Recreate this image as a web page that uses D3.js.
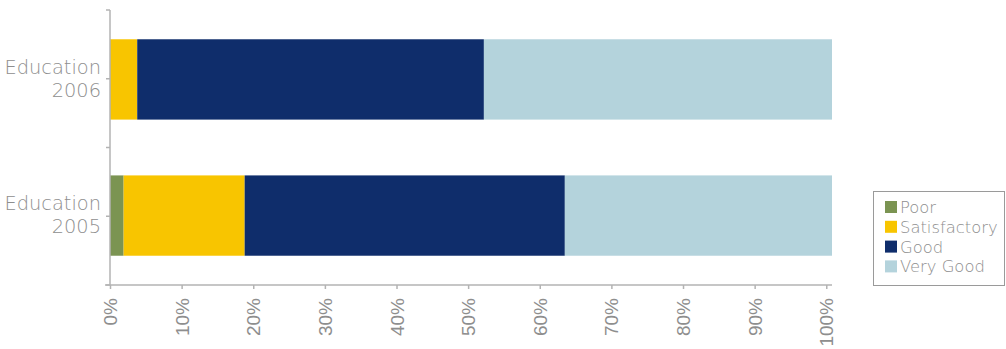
<!DOCTYPE html>
<html>
<head>
<meta charset="utf-8">
<script src="https://cdn.jsdelivr.net/npm/d3@7"></script>
<style>
  html, body { margin: 0; padding: 0; background: #fff; }
  svg { display: block; font-family: "DejaVu Sans", sans-serif; font-weight: 200; }
</style>
</head>
<body>
<svg id="chart" width="1006" height="349"></svg>
<script>
// Rating shares (%) per assessment year
const categories = ["Education 2006", "Education 2005"];
const seriesNames = ["Poor", "Satisfactory", "Good", "Very Good"];
const poor         = [0.0, 1.9];
const satisfactory = [3.8, 16.9];
const good         = [48.4, 44.7];
const veryGood     = [48.6, 37.3];
const tickValues = [0, 10, 20, 30, 40, 50, 60, 70, 80, 90, 100];
const colors = ["#7b9452", "#f8c500", "#0f2d6b", "#b4d3dc"];

const rows = categories.map((c, i) => ({
  category: c,
  "Poor": poor[i],
  "Satisfactory": satisfactory[i],
  "Good": good[i],
  "Very Good": veryGood[i]
}));
const stacked = d3.stack().keys(seriesNames)(rows);
const maxTotal = d3.max(rows, r => seriesNames.reduce((s, k) => s + r[k], 0));

const svg = d3.select("#chart");
const margin = { left: 110, top: 10, bottom: 64 };
const plotRight = 832;
const plotBottom = 349 - margin.bottom; // 285

const x = d3.scaleLinear().domain([0, maxTotal]).range([margin.left, plotRight]);
const y = d3.scaleBand().domain(categories).range([margin.top, plotBottom])
  .paddingInner(0.41).paddingOuter(0.215);
const color = d3.scaleOrdinal().domain(seriesNames).range(colors);

const axisColor = "#b3b3b3";
const textColor = "#8e8e8e";

// Stacked bars
svg.append("g").selectAll("g")
  .data(stacked)
  .join("g")
  .attr("fill", d => color(d.key))
  .selectAll("rect")
  .data(d => d)
  .join("rect")
  .attr("x", d => x(d[0]))
  .attr("width", d => x(d[1]) - x(d[0]))
  .attr("y", d => y(d.data.category))
  .attr("height", y.bandwidth());

// Y axis: line with ticks at band edges and band centres
const yAxis = svg.append("g");
yAxis.append("line")
  .attr("x1", margin.left).attr("x2", margin.left)
  .attr("y1", margin.top).attr("y2", plotBottom)
  .attr("stroke", axisColor).attr("stroke-width", 1.5);
const step = (plotBottom - margin.top) / categories.length;
const yTicks = d3.range(categories.length * 2 + 1).map(k => margin.top + k * step / 2);
yAxis.selectAll("line.tick")
  .data(yTicks)
  .join("line")
  .attr("class", "tick")
  .attr("x1", margin.left - 4).attr("x2", margin.left)
  .attr("y1", d => d).attr("y2", d => d)
  .attr("stroke", axisColor).attr("stroke-width", 1.5);

// Category labels on two lines
const catLabels = yAxis.selectAll("text")
  .data(categories)
  .join("text")
  .attr("text-anchor", "end")
  .attr("fill", textColor)
  .attr("font-size", 19.4)
  .attr("transform", d => `translate(101, ${y(d) + y.bandwidth() / 2})`);
catLabels.append("tspan").attr("x", 0).attr("y", -5.5).text(d => d.split(" ")[0]);
catLabels.append("tspan").attr("x", 0).attr("y", 17.5).text(d => d.split(" ")[1]);

// X axis
const xAxis = d3.axisBottom(x)
  .tickValues(tickValues)
  .tickFormat(d => d + "%")
  .tickSize(4)
  .tickSizeOuter(0);
const gx = svg.append("g")
  .attr("transform", `translate(0, ${plotBottom})`)
  .call(xAxis);
gx.select(".domain").remove();
gx.insert("line", ":first-child")
  .attr("x1", margin.left - 5).attr("x2", plotRight)
  .attr("y1", 0).attr("y2", 0)
  .attr("stroke", axisColor).attr("stroke-width", 1.5);
gx.selectAll(".tick line").attr("stroke", axisColor).attr("stroke-width", 1.5);
gx.selectAll(".tick text")
  .attr("fill", textColor)
  .attr("font-size", 19)
  .attr("font-family", null)
  .attr("text-anchor", "end")
  .attr("dy", null)
  .attr("y", 0)
  .attr("x", 0)
  .attr("dominant-baseline", "central")
  .attr("transform", "translate(0, 13) rotate(-90)");

// Legend
const legend = svg.append("g").attr("transform", "translate(873.5, 191.5)");
legend.append("rect")
  .attr("width", 131).attr("height", 94)
  .attr("fill", "#fff").attr("stroke", "#9a9a9a").attr("stroke-width", 1);
const items = legend.selectAll("g.item")
  .data(seriesNames)
  .join("g")
  .attr("class", "item")
  .attr("transform", (d, i) => `translate(11.5, ${9.5 + i * 19.8})`);
items.append("rect")
  .attr("width", 12).attr("height", 12)
  .attr("fill", d => color(d));
items.append("text")
  .attr("x", 15).attr("y", 12)
  .attr("fill", textColor)
  .attr("font-size", 16.4)
  .text(d => d);
</script>
</body>
</html>
